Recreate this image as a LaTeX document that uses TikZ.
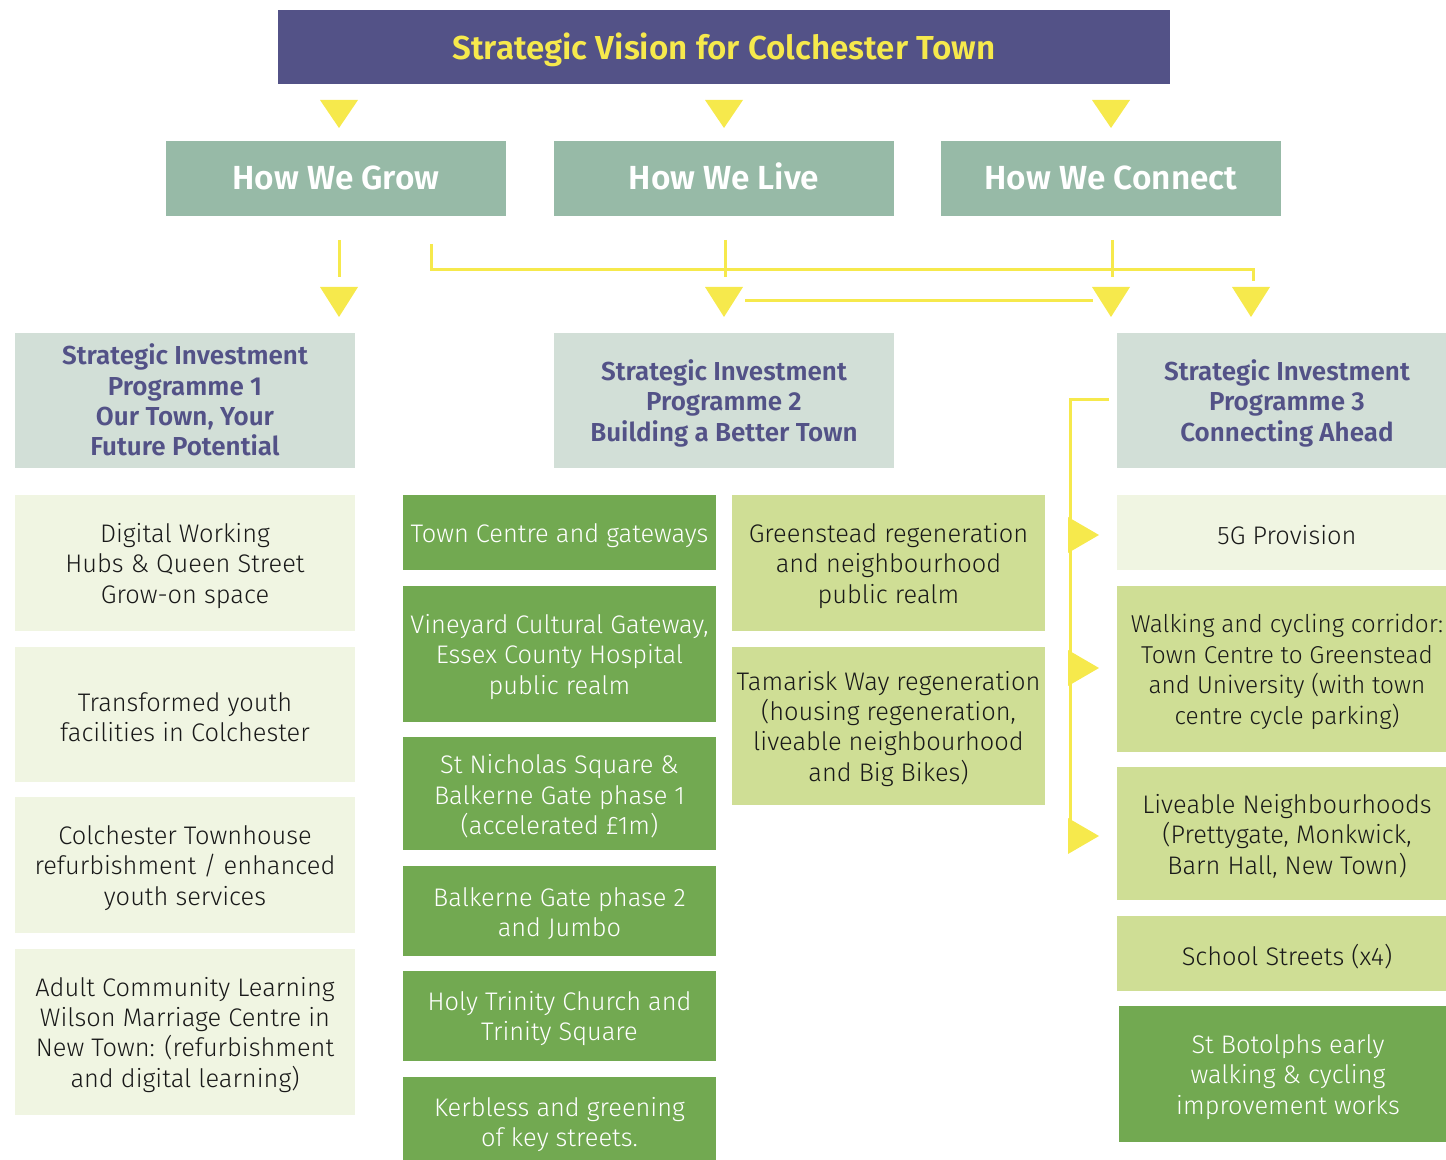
\documentclass[tikz,border=0pt]{standalone}
\usepackage{fontspec}
\setmainfont{Fira Sans Light}[BoldFont={Fira Sans SemiBold}]
\definecolor{navy}{RGB}{83,82,135}
\definecolor{yel}{RGB}{246,233,76}
\definecolor{teal}{RGB}{151,186,167}
\definecolor{hdr}{RGB}{210,223,215}
\definecolor{pale}{RGB}{240,245,226}
\definecolor{dkg}{RGB}{114,169,81}
\definecolor{ltg}{RGB}{207,222,149}
\definecolor{ink}{RGB}{25,25,25}
\newcommand\bx[7]{\node[#6, minimum width={(#4-#2)*0.5pt}, minimum height={(#5-#3)*0.5pt}] (#1) at ({(#2+#4)/2},{(#3+#5)/2}) {};
  \node[#6, fill=none, yshift=-1.4pt] (#1-t) at (#1.center) {#7};}
\newcommand\tridown[3]{\fill[yel] ({#1-19},#2) -- ({#1+19},#2) -- (#1,#3) -- cycle;}
\newcommand\triright[1]{\fill[yel] (1068,{#1-18}) -- (1099,#1) -- (1068,{#1+18}) -- cycle;}
\begin{document}
\begin{tikzpicture}[x=0.5pt,y=-0.5pt,
  base/.style={inner sep=0pt, outer sep=0pt, align=center},
  titlebox/.style={base, fill=navy, text=yel, font=\bfseries\fontsize{16.6}{20}\selectfont},
  howbox/.style={base, fill=teal, text=white, font=\bfseries\fontsize{16.7}{20}\selectfont, execute at begin node=\strut},
  sipbox/.style={base, fill=hdr, text=navy, font=\bfseries\fontsize{13}{15.2}\selectfont},
  palebox/.style={base, fill=pale, text=ink, font=\fontsize{12.7}{15.2}\selectfont},
  dkbox/.style={base, fill=dkg, text=white, font=\fontsize{12.7}{15.2}\selectfont},
  ltbox/.style={base, fill=ltg, text=ink, font=\fontsize{12.7}{15.2}\selectfont},
  conn/.style={draw=yel, line width=1.5pt}]
\useasboundingbox (0,0) rectangle (1446,1160);
% title
\bx{title}{278}{10}{1170}{84}{titlebox}{Strategic Vision for Colchester Town}
\tridown{339}{100}{128}
\tridown{724}{100}{128}
\tridown{1111}{100}{128}
% how row
\bx{grow}{166}{141}{506}{216}{howbox}{How We Grow}
\bx{live}{554}{141}{894}{216}{howbox}{How We Live}
\bx{connect}{941}{141}{1281}{216}{howbox}{How We Connect}
% SIP headers
\node[sipbox, minimum width=170pt, minimum height=67.5pt] (sip1) at (185,400.5) {};
\node[sipbox, fill=none, yshift=0.2pt] (sip1-t) at (sip1.center) {Strategic Investment\\Programme 1\\Our Town, Your\\Future Potential};
\bx{sip2}{554}{333}{894}{468}{sipbox}{Strategic Investment\\Programme 2\\Building a Better Town}
\bx{sip3}{1117}{333}{1457}{468}{sipbox}{Strategic Investment\\Programme 3\\Connecting Ahead}
% connectors
\coordinate (g1) at (339,240); \coordinate (g2) at (339,277);
\draw[conn] (g1) -- (g2);
\coordinate (l1) at (725,240); \coordinate (l2) at (725,277);
\draw[conn] (l1) -- (l2);
\coordinate (c1) at (1112,240); \coordinate (c2) at (1112,277);
\draw[conn] (c1) -- (c2);
\coordinate (h1) at (431,244); \coordinate (h2) at (1253,281);
\draw[conn] (h1) |- (1253,270) -- (h2);
\coordinate (m1) at (745,301); \coordinate (m2) at (1093,301);
\draw[conn] (m1) -- (m2);
\tridown{339}{287}{317}
\tridown{724}{287}{317}
\tridown{1111}{287}{317}
\tridown{1251}{287}{317}
% left column
\bx{a1}{15}{495}{355}{631}{palebox}{Digital Working\\Hubs \& Queen Street\\Grow-on space}
\bx{a2}{15}{647}{355}{782}{palebox}{Transformed youth\\facilities in Colchester}
\bx{a3}{15}{797}{355}{933}{palebox}{Colchester Townhouse\\refurbishment / enhanced\\youth services}
\bx{a4}{15}{949}{355}{1115}{palebox}{Adult Community Learning\\Wilson Marriage Centre in\\New Town: (refurbishment\\and digital learning)}
% middle column
\bx{b1}{403}{495}{716}{570}{dkbox}{Town Centre and gateways}
\bx{b2}{403}{586}{716}{722}{dkbox}{Vineyard Cultural Gateway,\\Essex County Hospital\\public realm}
\bx{b3}{403}{737}{716}{850}{dkbox}{St Nicholas Square \&\\Balkerne Gate phase 1\\(accelerated £1m)}
\bx{b4}{403}{866}{716}{956}{dkbox}{Balkerne Gate phase 2\\and Jumbo}
\bx{b5}{403}{971}{716}{1061}{dkbox}{Holy Trinity Church and\\Trinity Square}
\bx{b6}{403}{1077}{716}{1166}{dkbox}{Kerbless and greening\\of key streets.}
% middle-right column
\bx{c1b}{732}{495}{1045}{631}{ltbox}{Greenstead regeneration\\and neighbourhood\\public realm}
\bx{c2b}{732}{647}{1045}{805}{ltbox}{Tamarisk Way regeneration\\(housing regeneration,\\liveable neighbourhood\\and Big Bikes)}
% right column
\bx{d1}{1117}{495}{1457}{570}{palebox}{5G Provision}
\bx{d2}{1117}{586}{1457}{752}{ltbox, font=\fontsize{12.2}{15.2}\selectfont}{Walking and cycling corridor:\\Town Centre to Greenstead\\and University (with town\\centre cycle parking)}
\bx{d3}{1117}{767}{1457}{900}{ltbox}{Liveable Neighbourhoods\\(Prettygate, Monkwick,\\Barn Hall, New Town)}
\bx{d4}{1117}{916}{1457}{991}{ltbox}{School Streets (x4)}
\bx{d5}{1119}{1006}{1457}{1142}{dkbox}{St Botolphs early\\walking \& cycling\\improvement works}
% bracket
\coordinate (r1) at (1109,400); \coordinate (r2) at (1070,838);
\draw[conn] (r1) -| (r2);
\triright{535}
\triright{668}
\triright{836}
\end{tikzpicture}
\end{document}
